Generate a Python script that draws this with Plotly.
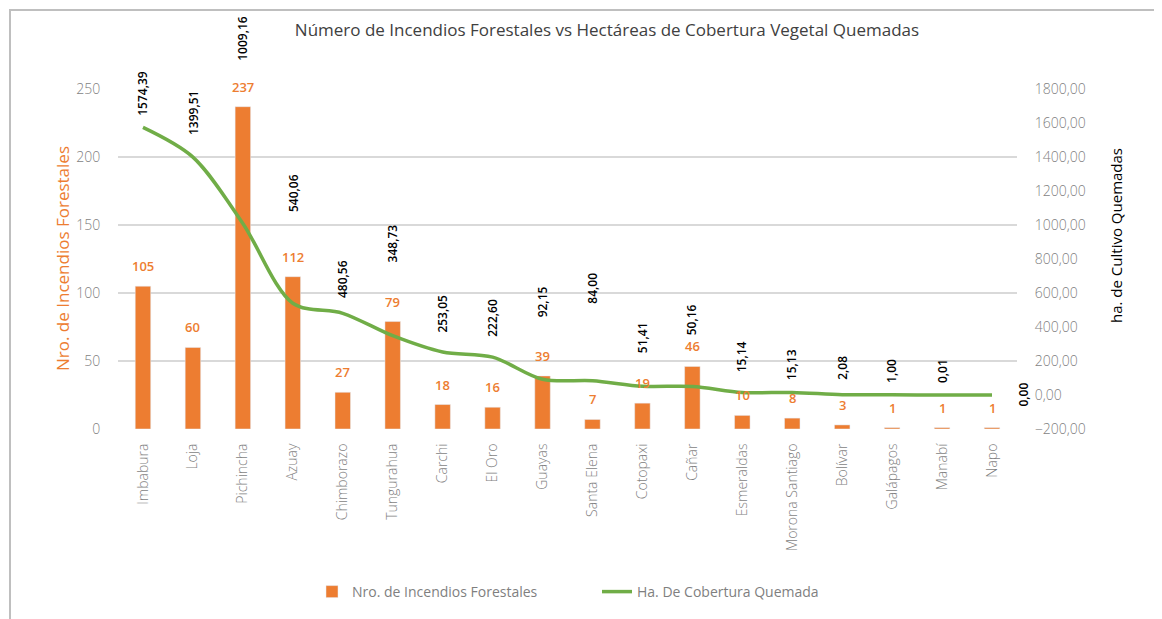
import plotly.graph_objects as go

## Data
provincias = ["Imbabura", "Loja", "Pichincha", "Azuay", "Chimborazo", "Tungurahua",
              "Carchi", "El Oro", "Guayas", "Santa Elena", "Cotopaxi", "Cañar",
              "Esmeraldas", "Morona Santiago", "Bolívar", "Galápagos", "Manabí", "Napo"]
incendios = [105, 60, 237, 112, 27, 79, 18, 16, 39, 7, 19, 46, 10, 8, 3, 1, 1, 1]
hectareas = [1574.39, 1399.51, 1009.16, 540.06, 480.56, 348.73, 253.05, 222.60,
             92.15, 84.00, 51.41, 50.16, 15.14, 15.13, 2.08, 1.00, 0.01, 0.00]

## Label placement (pixels above each point of the line), style only
label_shift = [10, 20, 161, 89, 13, 71, 17, 18, 60, 75, 31, 49, 18, 10, 13, 10, 10, 0]

W, H = 1162, 619
OFF = 8  # page body margin shifts the figure by 8px
ML, MT = 118 - OFF, 89 - OFF
PW, PH = 899, 340
MR = W - ML - PW
MB = H - MT - PH

ORANGE = "#ED7D31"
GREEN = "#70AD47"
GRAY = "#7F7F7F"
FONT = "Open Sans"

## reference-image pixel -> paper coordinates
def px_x(x):
    return (x - OFF - ML) / PW

def px_y(y):
    return (MT + PH - (y - OFF)) / PH

fig = go.Figure()

fig.add_trace(go.Bar(
    x=provincias,
    y=incendios,
    marker_color=ORANGE,
    name="Nro. de Incendios Forestales",
    yaxis="y"
))

fig.add_trace(go.Scatter(
    x=provincias,
    y=hectareas,
    mode="lines",
    line=dict(color=GREEN, width=3.5, shape="spline", smoothing=0.9),
    name="Ha. De Cobertura Quemada",
    yaxis="y2"
))

annotations = []

## bar value labels
for p, v in zip(provincias, incendios):
    annotations.append(dict(
        x=p, y=v, xref="x", yref="y", text=str(v), showarrow=False,
        yanchor="bottom", yshift=9,
        font=dict(family=FONT, size=13, color=ORANGE, weight=600)
    ))

## line value labels (rotated)
for i, (p, v) in enumerate(zip(provincias, hectareas)):
    txt = f"{v:.2f}".replace(".", ",")
    if i == len(provincias) - 1:
        annotations.append(dict(
            x=p, y=v, xref="x", yref="y2", text=txt, showarrow=False,
            textangle=-90, xanchor="left", yanchor="middle", xshift=20,
            font=dict(family=FONT, size=12, color="black", weight=600)
        ))
    else:
        annotations.append(dict(
            x=p, y=v, xref="x", yref="y2", text=txt, showarrow=False,
            textangle=-90, xanchor="center", yanchor="bottom", yshift=label_shift[i],
            font=dict(family=FONT, size=12, color="black", weight=600)
        ))

## axis titles
annotations.append(dict(
    x=px_x(62), y=px_y(259), xref="paper", yref="paper",
    xanchor="center", yanchor="middle",
    text="Nro. de Incendios Forestales", showarrow=False, textangle=-90,
    font=dict(family=FONT, size=17, color=ORANGE)
))
annotations.append(dict(
    x=px_x(1116), y=px_y(236), xref="paper", yref="paper",
    xanchor="center", yanchor="middle",
    text="ha. de Cultivo Quemadas", showarrow=False, textangle=-90,
    font=dict(family=FONT, size=15, color="black")
))

fig.update_layout(
    width=W, height=H,
    margin=dict(l=ML, r=MR, t=MT, b=MB),
    paper_bgcolor="white",
    plot_bgcolor="white",
    separators=",.",
    font=dict(family=FONT, color=GRAY),
    title=dict(
        text="Número de Incendios Forestales vs Hectáreas de Cobertura Vegetal Quemadas",
        x=(607 - OFF) / W, xanchor="center", y=1 - (30 - OFF) / H, yanchor="middle",
        font=dict(family=FONT, size=17, color="#404040")
    ),
    bargap=0.69,
    showlegend=True,
    legend=dict(
        orientation="h", x=px_x(597), xanchor="center", y=px_y(592), yanchor="middle",
        entrywidth=240, entrywidthmode="pixels",
        font=dict(family=FONT, size=14, color=GRAY)
    ),
    xaxis=dict(
        range=[-0.5, len(provincias) - 0.5], autorange=False,
        tickangle=-90, showgrid=False, showline=False, zeroline=False,
        ticks="outside", ticklen=8, tickcolor="rgba(0,0,0,0)",
        tickfont=dict(family=FONT, size=14, color=GRAY, weight=300)
    ),
    yaxis=dict(
        range=[0, 250], dtick=50, showgrid=True, gridcolor="#D9D9D9", gridwidth=1.5,
        zeroline=False, showline=False,
        ticks="outside", ticklen=14, tickcolor="rgba(0,0,0,0)",
        tickfont=dict(family=FONT, size=14, color=GRAY, weight=300)
    ),
    yaxis2=dict(
        range=[-200, 1800], dtick=200, overlaying="y", side="right",
        showgrid=False, zeroline=False, showline=False, tickformat=".2f",
        ticks="outside", ticklen=14, tickcolor="rgba(0,0,0,0)",
        tickfont=dict(family=FONT, size=14, color=GRAY, weight=300)
    ),
    annotations=annotations,
    shapes=[dict(
        type="rect", xref="paper", yref="paper",
        x0=px_x(10), x1=px_x(W + 30), y0=px_y(H + 30), y1=px_y(10),
        line=dict(color="#BFBFBF", width=2), layer="below"
    )]
)

fig.write_html("out.html")
